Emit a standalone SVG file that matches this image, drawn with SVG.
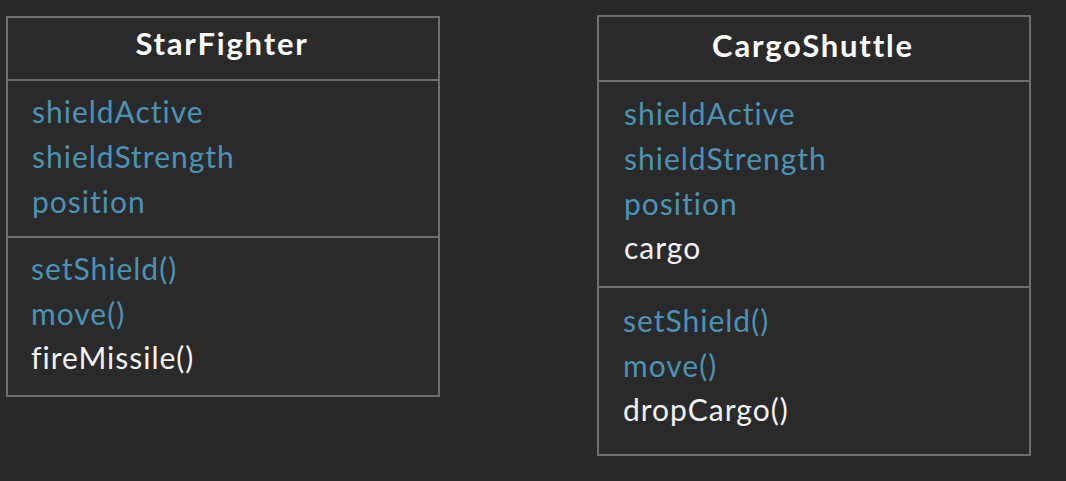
<svg xmlns="http://www.w3.org/2000/svg" width="1066" height="481" viewBox="0 0 1066 481">
<style>
.bg{fill:#282828}
.box{fill:#2a2a2a;stroke:#6f6f6f;stroke-width:2}
.div{stroke:#6f6f6f;stroke-width:2}
text{font-family:Lato,"Noto Sans",sans-serif;font-variant-ligatures:none}
.title{font-weight:bold;font-size:31px;letter-spacing:1.8px;fill:#ffffff;text-anchor:middle}
.inh{font-size:30px;letter-spacing:1px;fill:#4c93b6}
.own{font-size:30px;letter-spacing:1px;fill:#f2f2f2}
</style>
<rect class="bg" x="0" y="0" width="1066" height="481"/>
<g id="StarFighter">
<rect class="box" x="7" y="17" width="432" height="379"/>
<line class="div" x1="7" y1="80" x2="439" y2="80"/>
<line class="div" x1="7" y1="237" x2="439" y2="237"/>
<text class="title" x="222" y="55">StarFighter</text>
<text class="inh" x="32" y="123">shieldActive</text>
<text class="inh" x="32" y="168">shieldStrength</text>
<text class="inh" x="32" y="213">position</text>
<text class="inh" x="31" y="280">setShield()</text>
<text class="inh" x="31" y="325">move()</text>
<text class="own" x="31" y="369">fireMissile()</text>
</g>
<g id="CargoShuttle">
<rect class="box" x="598" y="16" width="432" height="439"/>
<line class="div" x1="598" y1="81" x2="1030" y2="81"/>
<line class="div" x1="598" y1="287" x2="1030" y2="287"/>
<text class="title" x="813" y="57">CargoShuttle</text>
<text class="inh" x="624" y="125">shieldActive</text>
<text class="inh" x="624" y="170">shieldStrength</text>
<text class="inh" x="624" y="215">position</text>
<text class="own" x="624" y="259">cargo</text>
<text class="inh" x="623" y="332">setShield()</text>
<text class="inh" x="623" y="377">move()</text>
<text class="own" x="623" y="421">dropCargo()</text>
</g>
<g id="connectors"></g>
</svg>
